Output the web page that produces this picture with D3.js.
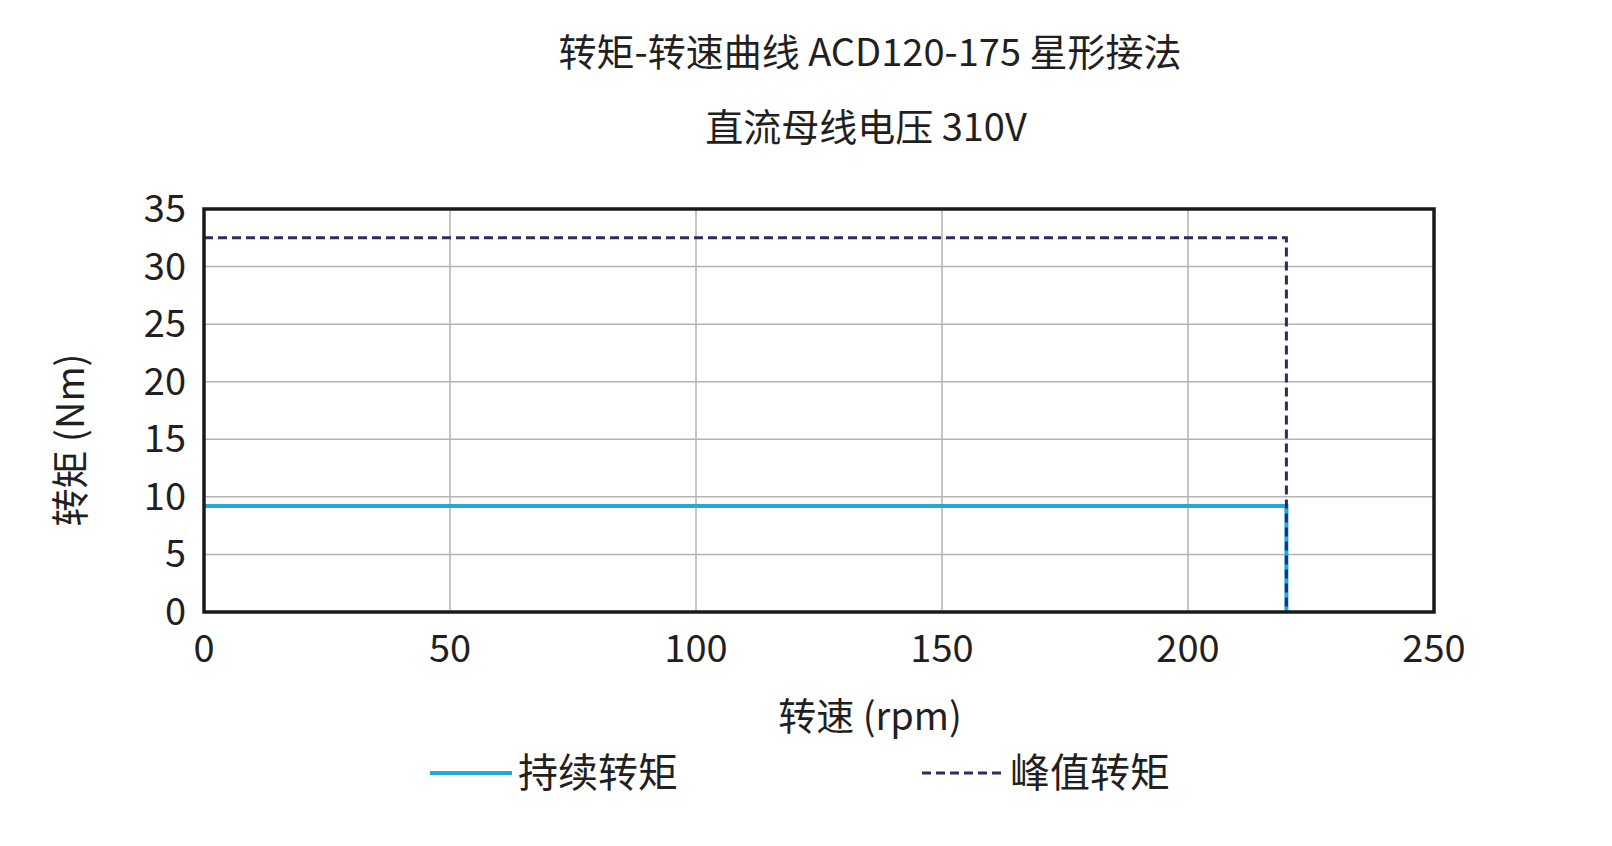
<!DOCTYPE html>
<html>
<head>
<meta charset="UTF-8">
<script src="https://d3js.org/d3.v7.min.js"></script>
<style>
body { margin: 0; background: #fff; }
text { font-family: "Noto Sans CJK SC", "Noto Sans", sans-serif; fill: #231f20; }
</style>
</head>
<body>
<svg id="chart" width="1612" height="846"></svg>
<script>
// data
const contSpeed = [0, 220, 220];
const contTorque = [9.2, 9.2, 0];
const peakSpeed = [0, 220, 220];
const peakTorque = [32.5, 32.5, 0];
const xTicks = [0, 50, 100, 150, 200, 250];
const yTicks = [0, 5, 10, 15, 20, 25, 30, 35];

const svg = d3.select("#chart");
const pL = 204, pR = 1434, pT = 209, pB = 612;
const x = d3.scaleLinear().domain([0, 250]).range([pL, pR]);
const y = d3.scaleLinear().domain([0, 35]).range([pB, pT]);

// grid
svg.append("g").selectAll("line").data(xTicks).enter().append("line")
  .attr("x1", d => x(d)).attr("x2", d => x(d)).attr("y1", pT).attr("y2", pB)
  .attr("stroke", "#b3b3b3").attr("stroke-width", 1.5);
svg.append("g").selectAll("line").data(yTicks).enter().append("line")
  .attr("x1", pL).attr("x2", pR).attr("y1", d => y(d)).attr("y2", d => y(d))
  .attr("stroke", "#b3b3b3").attr("stroke-width", 1.5);

// tick labels
svg.append("g").selectAll("text").data(xTicks).enter().append("text")
  .attr("x", d => x(d)).attr("y", 662).attr("text-anchor", "middle")
  .attr("font-size", 38).text(d => d);
svg.append("g").selectAll("text").data(yTicks).enter().append("text")
  .attr("x", 186).attr("y", d => y(d) + 13).attr("text-anchor", "end")
  .attr("font-size", 38).text(d => d);

const line = d3.line().x(d => x(d[0])).y(d => y(d[1]));
svg.append("path").datum(d3.zip(contSpeed, contTorque)).attr("d", line)
  .attr("fill", "none").attr("stroke", "#1fa9df").attr("stroke-width", 4);
svg.append("path").datum(d3.zip(peakSpeed, peakTorque)).attr("d", line)
  .attr("fill", "none").attr("stroke", "#2e2c5e").attr("stroke-width", 3)
  .attr("stroke-dasharray", "9,5");

// frame
svg.append("rect").attr("x", pL).attr("y", pT).attr("width", pR - pL).attr("height", pB - pT)
  .attr("fill", "none").attr("stroke", "#1a1a1a").attr("stroke-width", 3.5);

// titles
svg.append("text").attr("x", 870).attr("y", 66).attr("text-anchor", "middle").attr("font-size", 38)
  .text("转矩-转速曲线 ACD120-175 星形接法");
svg.append("text").attr("x", 866).attr("y", 141).attr("text-anchor", "middle").attr("font-size", 38)
  .text("直流母线电压 310V");
svg.append("text").attr("x", 870).attr("y", 730).attr("text-anchor", "middle").attr("font-size", 38)
  .text("转速 (rpm)");
svg.append("text").attr("transform", "translate(84,440) rotate(-90)").attr("text-anchor", "middle")
  .attr("font-size", 38).text("转矩 (Nm)");

// legend
svg.append("line").attr("x1", 430).attr("x2", 512).attr("y1", 773).attr("y2", 773)
  .attr("stroke", "#1fa9df").attr("stroke-width", 4);
svg.append("text").attr("x", 518).attr("y", 787).attr("font-size", 40).text("持续转矩");
svg.append("line").attr("x1", 922).attr("x2", 1004).attr("y1", 773).attr("y2", 773)
  .attr("stroke", "#2e2c5e").attr("stroke-width", 3).attr("stroke-dasharray", "9,5");
svg.append("text").attr("x", 1010).attr("y", 787).attr("font-size", 40).text("峰值转矩");
</script>
</body>
</html>
